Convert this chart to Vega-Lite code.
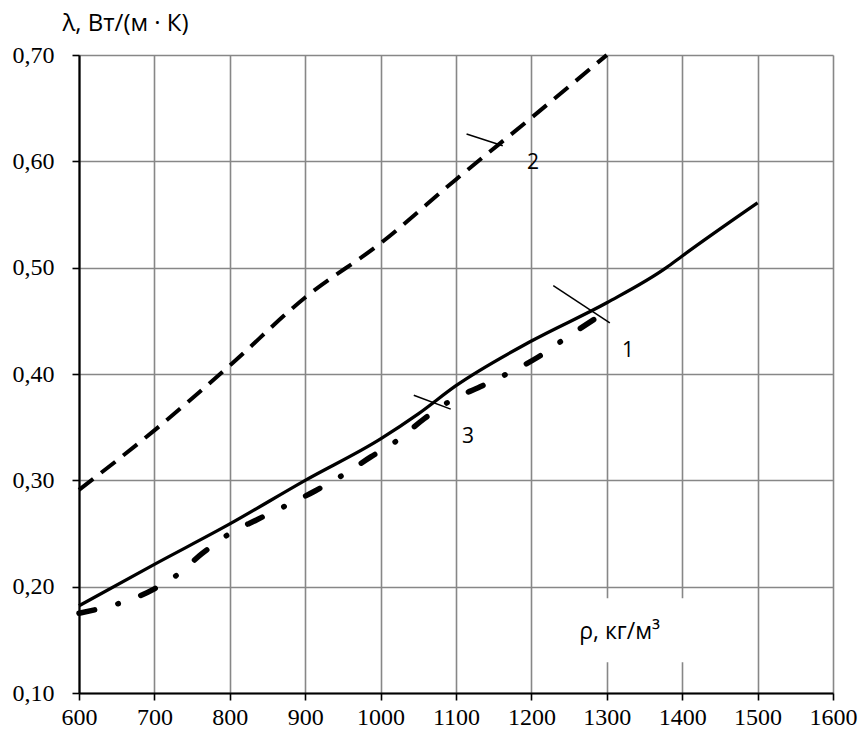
{
  "$schema": "https://vega.github.io/schema/vega-lite/v6.json",
  "width": 754,
  "height": 638,
  "autosize": {"type": "none"},
  "padding": {"left": 79, "top": 55, "right": 28, "bottom": 49},
  "background": "white",
  "config": {"view": {"stroke": null}},
  "datasets": {
    "curves": [
      {"series": "1", "rho": 600, "lambda": 0.182},
      {"series": "1", "rho": 700, "lambda": 0.221},
      {"series": "1", "rho": 800, "lambda": 0.259},
      {"series": "1", "rho": 900, "lambda": 0.300},
      {"series": "1", "rho": 1000, "lambda": 0.339},
      {"series": "1", "rho": 1050, "lambda": 0.3625},
      {"series": "1", "rho": 1100, "lambda": 0.389},
      {"series": "1", "rho": 1200, "lambda": 0.431},
      {"series": "1", "rho": 1300, "lambda": 0.467},
      {"series": "1", "rho": 1379, "lambda": 0.500},
      {"series": "1", "rho": 1400, "lambda": 0.511},
      {"series": "1", "rho": 1500, "lambda": 0.561},
      {"series": "2", "rho": 600, "lambda": 0.291},
      {"series": "2", "rho": 700, "lambda": 0.347},
      {"series": "2", "rho": 800, "lambda": 0.408},
      {"series": "2", "rho": 900, "lambda": 0.472},
      {"series": "2", "rho": 1000, "lambda": 0.523},
      {"series": "2", "rho": 1100, "lambda": 0.583},
      {"series": "2", "rho": 1200, "lambda": 0.641},
      {"series": "2", "rho": 1300, "lambda": 0.700},
      {"series": "3", "rho": 600, "lambda": 0.175},
      {"series": "3", "rho": 700, "lambda": 0.198},
      {"series": "3", "rho": 730, "lambda": 0.211},
      {"series": "3", "rho": 763, "lambda": 0.231},
      {"series": "3", "rho": 800, "lambda": 0.250},
      {"series": "3", "rho": 836, "lambda": 0.263},
      {"series": "3", "rho": 874, "lambda": 0.276},
      {"series": "3", "rho": 913, "lambda": 0.290},
      {"series": "3", "rho": 950, "lambda": 0.305},
      {"series": "3", "rho": 987, "lambda": 0.322},
      {"series": "3", "rho": 1023, "lambda": 0.338},
      {"series": "3", "rho": 1058, "lambda": 0.358},
      {"series": "3", "rho": 1093, "lambda": 0.375},
      {"series": "3", "rho": 1132, "lambda": 0.388},
      {"series": "3", "rho": 1170, "lambda": 0.401},
      {"series": "3", "rho": 1209, "lambda": 0.416},
      {"series": "3", "rho": 1245, "lambda": 0.4335},
      {"series": "3", "rho": 1291, "lambda": 0.455}
    ],
    "leaders": [
      {"label": "1", "x1": 1229, "y1": 0.483, "x2": 1304, "y2": 0.448},
      {"label": "2", "x1": 1114, "y1": 0.6257, "x2": 1162, "y2": 0.6147},
      {"label": "3", "x1": 1044, "y1": 0.380, "x2": 1093, "y2": 0.367}
    ],
    "labels": [
      {"text": "1", "x": 1328, "y": 0.422},
      {"text": "2", "x": 1202, "y": 0.598},
      {"text": "3", "x": 1116, "y": 0.341}
    ],
    "xtitle": [
      {"text": "ρ, кг/м³", "x": 1317, "y": 0.1575, "bx1": 1250, "bx2": 1440, "by1": 0.129, "by2": 0.189}
    ]
  },
  "encoding": {
    "x": {
      "field": "rho", "type": "quantitative",
      "scale": {"domain": [600, 1600], "nice": false, "zero": false},
      "axis": {
        "title": null,
        "values": [600, 700, 800, 900, 1000, 1100, 1200, 1300, 1400, 1500, 1600],
        "format": "d",
        "labelFont": "Liberation Serif",
        "labelFontSize": 24,
        "labelColor": "black",
        "labelPadding": 5,
        "labelFlush": false,
        "grid": true,
        "gridColor": "#878787",
        "gridWidth": 1.6,
        "domainColor": "black",
        "domainWidth": 2.2,
        "tickColor": "black",
        "tickWidth": 1.6,
        "tickSize": 7
      }
    },
    "y": {
      "field": "lambda", "type": "quantitative",
      "scale": {"domain": [0.1, 0.7], "nice": false, "zero": false},
      "axis": {
        "title": "λ, Вт/(м · К)",
        "titleAngle": 0,
        "titleAlign": "left",
        "titleBaseline": "middle",
        "titleX": -17,
        "titleY": -32,
        "titleFont": "Open Sans",
        "titleFontSize": 24,
        "titleFontWeight": "normal",
        "titleColor": "black",
        "values": [0.1, 0.2, 0.3, 0.4, 0.5, 0.6, 0.7],
        "labelExpr": "replace(format(datum.value, '.2f'), '.', ',')",
        "labelFont": "Liberation Serif",
        "labelFontSize": 24,
        "labelColor": "black",
        "labelPadding": 18,
        "labelFlush": false,
        "grid": true,
        "gridColor": "#878787",
        "gridWidth": 1.6,
        "domainColor": "black",
        "domainWidth": 2.2,
        "tickColor": "black",
        "tickWidth": 1.6,
        "tickSize": 7
      }
    }
  },
  "layer": [
    {
      "data": {"name": "xtitle"},
      "mark": {"type": "rect", "fill": "white", "stroke": null},
      "encoding": {
        "x": {"field": "bx1", "type": "quantitative"},
        "x2": {"field": "bx2"},
        "y": {"field": "by1", "type": "quantitative"},
        "y2": {"field": "by2"}
      }
    },
    {
      "data": {"name": "xtitle"},
      "mark": {"type": "text", "font": "Open Sans", "fontSize": 23, "color": "black", "align": "center", "baseline": "middle"},
      "encoding": {
        "x": {"field": "x", "type": "quantitative"},
        "y": {"field": "y", "type": "quantitative"},
        "text": {"field": "text"}
      }
    },
    {
      "data": {"name": "curves"},
      "transform": [{"filter": "datum.series == '2'"}],
      "mark": {"type": "line", "color": "black", "strokeWidth": 4, "strokeDash": [18, 10], "interpolate": "monotone"},
      "encoding": {}
    },
    {
      "data": {"name": "curves"},
      "transform": [{"filter": "datum.series == '1'"}],
      "mark": {"type": "line", "color": "black", "strokeWidth": 3.3, "interpolate": "monotone"},
      "encoding": {}
    },
    {
      "data": {"name": "curves"},
      "transform": [{"filter": "datum.series == '3'"}],
      "mark": {"type": "line", "color": "black", "strokeWidth": 5.5, "strokeCap": "round", "strokeDash": [16, 24, 0.5, 24], "interpolate": "monotone"},
      "encoding": {}
    },
    {
      "data": {"name": "leaders"},
      "mark": {"type": "rule", "color": "black", "strokeWidth": 1.5},
      "encoding": {
        "x": {"field": "x1", "type": "quantitative"},
        "y": {"field": "y1", "type": "quantitative"},
        "x2": {"field": "x2"},
        "y2": {"field": "y2"}
      }
    },
    {
      "data": {"name": "labels"},
      "mark": {"type": "text", "font": "Open Sans", "fontSize": 21, "color": "black", "align": "center", "baseline": "middle"},
      "encoding": {
        "x": {"field": "x", "type": "quantitative"},
        "y": {"field": "y", "type": "quantitative"},
        "text": {"field": "text"}
      }
    }
  ]
}
